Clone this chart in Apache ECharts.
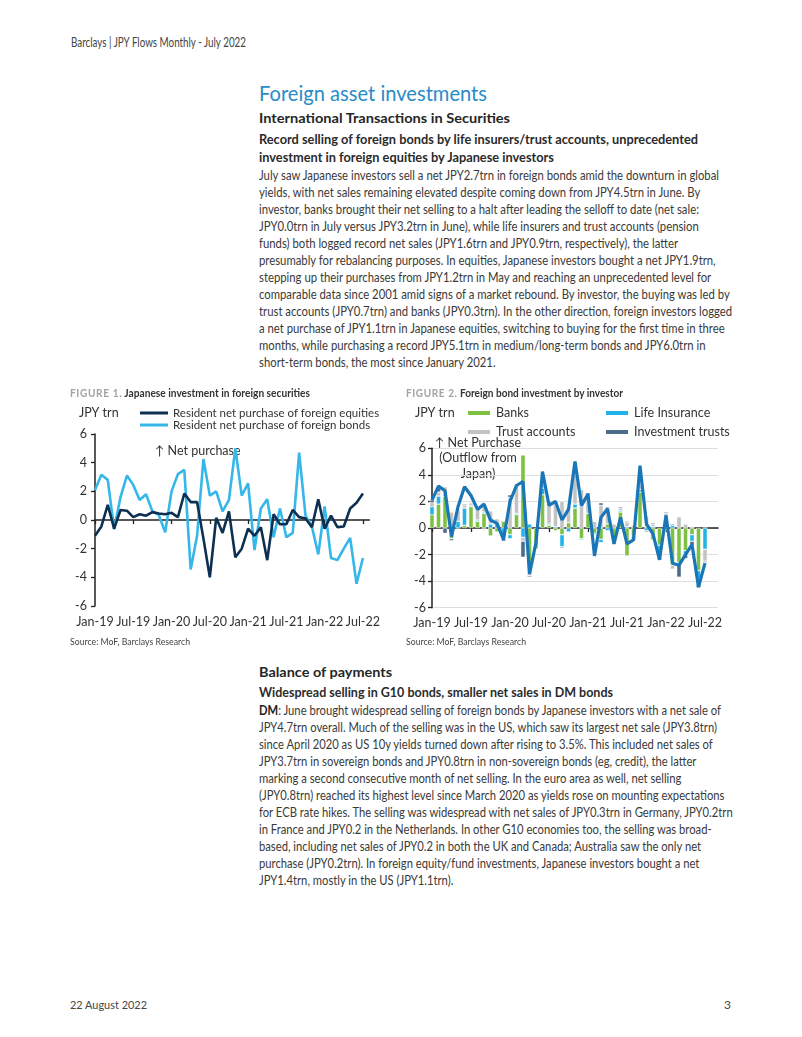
<!DOCTYPE html>
<html><head><meta charset="utf-8">
<script src="https://cdn.jsdelivr.net/npm/echarts@6.0.0/dist/echarts.min.js"></script>
<style>
html,body{margin:0;padding:0;background:#fff;}
body{width:802px;height:1037px;position:relative;overflow:hidden;font-family:Lato,"Open Sans",sans-serif;color:#3a3a3a;}
.t{position:absolute;white-space:nowrap;transform-origin:0 50%;}
.chart{position:absolute;}
.fig{font-size:11px;font-weight:700;color:#333;}
.fig span{color:#a3a3a3;letter-spacing:0.6px;}
</style></head>
<body>
<div id="c1" class="chart" style="left:60px;top:400px;width:340px;height:240px;"></div>
<div id="c2" class="chart" style="left:398px;top:400px;width:340px;height:240px;"></div>
<script>
// ---------- DATA ----------
const months = ['Jan-19','Feb-19','Mar-19','Apr-19','May-19','Jun-19','Jul-19','Aug-19','Sep-19','Oct-19','Nov-19','Dec-19',
  'Jan-20','Feb-20','Mar-20','Apr-20','May-20','Jun-20','Jul-20','Aug-20','Sep-20','Oct-20','Nov-20','Dec-20',
  'Jan-21','Feb-21','Mar-21','Apr-21','May-21','Jun-21','Jul-21','Aug-21','Sep-21','Oct-21','Nov-21','Dec-21',
  'Jan-22','Feb-22','Mar-22','Apr-22','May-22','Jun-22','Jul-22'];
// Figure 1 (JPY trn)
const equities = [-1.1,-0.45,1.05,-0.6,0.7,0.65,0.2,0.4,0.3,0.55,0.45,0.4,
  0.5,0.2,1.85,1.25,1.25,-1.3,-4.0,0.15,-0.9,0.6,-2.6,-2.0,
  -0.6,-1.1,-0.5,-2.8,0.4,-0.3,-0.3,0.7,0.2,0.1,-0.5,1.45,
  -0.6,0.3,-0.5,-0.45,0.8,1.2,1.85];
const bonds = [2.1,3.15,2.8,-0.65,1.6,3.1,2.45,1.4,1.8,0.6,0.35,-0.85,
  2.0,3.2,3.5,-3.45,-1.1,4.25,1.7,2.0,0.6,1.4,5.0,1.7,
  2.55,-2.1,0.8,1.45,-1.2,0.8,-1.2,-0.9,4.7,0.3,-0.45,-2.4,
  0.95,-2.65,-2.8,-2.0,-1.25,-4.45,-2.65];
// Figure 2 (JPY trn), by investor
const banks = [1.0,1.8,2.4,-0.8,0.0,0.2,1.6,0.5,1.1,-0.6,-0.3,0.5,
  -0.5,1.0,5.5,-3.0,-1.6,2.5,0.2,-0.2,-0.5,0.4,1.5,-0.8,
  1.1,-0.4,-0.85,0.3,-0.8,1.2,-2.1,-0.6,2.7,0.1,-0.9,-1.3,
  -0.2,-2.8,-2.6,-1.7,-0.5,-3.2,0.0];
const lifeIns = [0.6,0.6,0.2,0.0,0.5,1.3,0.1,0.1,0.1,0.3,0.4,-0.8,
  -0.3,0.1,-0.7,0.3,0.0,0.5,0.1,0.1,-0.9,-0.3,0.3,-0.1,
  0.0,-0.1,-0.25,-0.2,-0.3,0.1,0.1,-0.2,0.2,-0.2,0.1,-0.6,
  0.1,0.2,-0.1,-0.3,-0.5,-0.6,-1.6];
const trustAcc = [0.3,0.3,0.5,1.2,0.8,0.2,0.2,0.8,0.5,1.0,0.3,0.0,
  2.3,2.1,-0.3,-0.6,0.0,0.3,1.8,2.0,2.0,1.2,2.8,2.9,
  1.4,0.5,1.7,1.2,0.3,0.2,0.3,0.2,0.3,0.8,0.2,-0.3,
  1.0,-0.3,0.85,0.3,0.1,-0.4,-0.9];
const invTrusts = [0.2,0.3,-0.4,-0.15,0.1,0.1,0.0,0.0,-0.1,0.0,0.0,-0.2,
  0.2,0.1,-1.2,-0.1,0.0,0.2,0.0,0.0,-0.1,0.0,0.3,0.0,
  0.15,0.0,0.2,0.1,-0.1,0.1,0.1,-0.1,0.1,-0.1,0.1,-0.2,
  0.1,0.1,-1.0,-0.3,-0.3,-0.3,-0.1];

// ---------- TEXT ----------
const headerText = 'Barclays | JPY Flows Monthly - July 2022';
const titleText = 'Foreign asset investments';
const h2a = 'International Transactions in Securities';
const h3a = ['Record selling of foreign bonds by life insurers/trust accounts, unprecedented',
  'investment in foreign equities by Japanese investors'];
const bodyA = [
  'July saw Japanese investors sell a net JPY2.7trn in foreign bonds amid the downturn in global',
  'yields, with net sales remaining elevated despite coming down from JPY4.5trn in June. By',
  'investor, banks brought their net selling to a halt after leading the selloff to date (net sale:',
  'JPY0.0trn in July versus JPY3.2trn in June), while life insurers and trust accounts (pension',
  'funds) both logged record net sales (JPY1.6trn and JPY0.9trn, respectively), the latter',
  'presumably for rebalancing purposes. In equities, Japanese investors bought a net JPY1.9trn,',
  'stepping up their purchases from JPY1.2trn in May and reaching an unprecedented level for',
  'comparable data since 2001 amid signs of a market rebound. By investor, the buying was led by',
  'trust accounts (JPY0.7trn) and banks (JPY0.3trn). In the other direction, foreign investors logged',
  'a net purchase of JPY1.1trn in Japanese equities, switching to buying for the first time in three',
  'months, while purchasing a record JPY5.1trn in medium/long-term bonds and JPY6.0trn in',
  'short-term bonds, the most since January 2021.'];
const h2b = 'Balance of payments';
const h3b = 'Widespread selling in G10 bonds, smaller net sales in DM bonds';
const bodyB = [
  '<b style="color:#222">DM</b>: June brought widespread selling of foreign bonds by Japanese investors with a net sale of',
  'JPY4.7trn overall. Much of the selling was in the US, which saw its largest net sale (JPY3.8trn)',
  'since April 2020 as US 10y yields turned down after rising to 3.5%. This included net sales of',
  'JPY3.7trn in sovereign bonds and JPY0.8trn in non-sovereign bonds (eg, credit), the latter',
  'marking a second consecutive month of net selling. In the euro area as well, net selling',
  '(JPY0.8trn) reached its highest level since March 2020 as yields rose on mounting expectations',
  'for ECB rate hikes. The selling was widespread with net sales of JPY0.3trn in Germany, JPY0.2trn',
  'in France and JPY0.2 in the Netherlands. In other G10 economies too, the selling was broad-',
  'based, including net sales of JPY0.2 in both the UK and Canada; Australia saw the only net',
  'purchase (JPY0.2trn). In foreign equity/fund investments, Japanese investors bought a net',
  'JPY1.4trn, mostly in the US (JPY1.1trn).'];
const fig1Title = ['FIGURE 1.', 'Japanese investment in foreign securities'];
const fig2Title = ['FIGURE 2.', 'Foreign bond investment by investor'];
const sourceText = 'Source: MoF, Barclays Research';
const footerDate = '22 August 2022';
const pageNo = '3';

// ---------- PAGE TEXT LAYOUT ----------
function addText(html, x, y, size, opts) {
  opts = opts || {};
  const d = document.createElement('div');
  d.className = 't' + (opts.cls ? ' ' + opts.cls : '');
  d.innerHTML = html;
  const lh = Math.round(size * 1.4);
  d.style.left = x + 'px';
  d.style.top = (y - lh / 2) + 'px';
  d.style.fontSize = size + 'px';
  d.style.lineHeight = lh + 'px';
  if (opts.color) d.style.color = opts.color;
  if (opts.weight) d.style.fontWeight = opts.weight;
  document.body.appendChild(d);
  return d;
}
const groups = [];
function group(els, w) { groups.push({els, w}); }

group([addText(headerText, 71, 43, 12.5, {color:'#444'})], 175);
group([addText(titleText, 259, 93, 20.5, {color:'#2a8cc6'})], 228);
group([addText(h2a, 259, 118, 14, {color:'#262626', weight:700})], 251);
group(h3a.map((s, i) => addText(s, 259, 139 + 18 * i, 13, {color:'#2b2b2b', weight:700})), 439);
group(bodyA.map((s, i) => addText(s, 259, 176 + 17 * i, 12.5)), 460);
group([addText('<span>' + fig1Title[0] + '</span> ' + fig1Title[1], 70, 393, 10.5, {cls:'fig'})], 240);
group([addText('<span>' + fig2Title[0] + '</span> ' + fig2Title[1], 406, 393, 10.5, {cls:'fig'})], 217);
group([addText(sourceText, 70, 641, 9.5, {color:'#444'})], 120);
group([addText(sourceText, 406, 641, 9.5, {color:'#444'})], 120);
group([addText(h2b, 259, 672, 14, {color:'#262626', weight:700})], 133);
group([addText(h3b, 259, 692, 13, {color:'#2b2b2b', weight:700})], 354);
group(bodyB.map((s, i) => addText(s, 259, 711 + 17 * i, 12.5)), 462);
group([addText(footerDate, 70, 1004, 12, {color:'#444'})], 77);
addText(pageNo, 724, 1004, 12, {color:'#444'});

function fitAll() {
  groups.forEach(g => {
    g.els.forEach(e => e.style.transform = 'none');
    const w = g.els[0].getBoundingClientRect().width;
    const k = g.w / w;
    g.els.forEach(e => e.style.transform = 'scaleX(' + k + ')');
  });
}
fitAll();
if (document.fonts && document.fonts.ready) document.fonts.ready.then(fitAll);

// ---------- CHARTS ----------
const FONT = 'Lato';
const axisCol = '#222';
const labCol = '#333';

function xAxes(maxIdx) {
  return [
    {type:'category', data:months, boundaryGap:false, max:maxIdx,
     axisLine:{show:true, onZero:true, lineStyle:{color:axisCol, width:1.5}},
     axisTick:{show:true, interval:5, length:4, lineStyle:{color:axisCol, width:1.3}},
     axisLabel:{show:false}, splitLine:{show:false}},
    {type:'category', data:months, boundaryGap:false, max:maxIdx, position:'bottom',
     axisLine:{show:false, onZero:false}, axisTick:{show:false},
     axisLabel:{interval:5, color:labCol, fontSize:12.5, fontFamily:FONT, margin:9}, splitLine:{show:false}}
  ];
}

// Figure 1
const c1 = echarts.init(document.getElementById('c1'), null, {renderer:'canvas'});
c1.setOption({
  animation:false,
  textStyle:{fontFamily:FONT},
  grid:{left:35, top:34, width:274.3, height:172, containLabel:false},
  xAxis:xAxes(43),
  yAxis:{type:'value', min:-6, max:6, interval:2,
    axisLine:{show:true, lineStyle:{color:axisCol, width:1.5}},
    axisTick:{show:true, length:4, lineStyle:{color:axisCol, width:1.3}},
    axisLabel:{color:labCol, fontSize:12.5, fontFamily:FONT, margin:8},
    splitLine:{show:false}},
  legend:{orient:'vertical', left:80, top:7, padding:0, itemWidth:28, itemHeight:3, itemGap:0, icon:'rect',
    textStyle:{fontSize:11.5, color:labCol, fontFamily:FONT, lineHeight:12},
    data:['Resident net purchase of foreign equities','Resident net purchase of foreign bonds']},
  graphic:[
    {type:'text', x:19, y:13, style:{text:'JPY trn', fontSize:12.5, fontFamily:FONT, fill:labCol, verticalAlign:'middle'}},
    {type:'text', x:95, y:51, style:{text:'↑ Net purchase', fontSize:12.5, fontFamily:FONT, fill:labCol, verticalAlign:'middle'}}
  ],
  series:[
    {name:'Resident net purchase of foreign equities', type:'line', data:equities, symbol:'none',
     lineStyle:{color:'#0c2f52', width:2.6}, itemStyle:{color:'#0c2f52'}, z:3},
    {name:'Resident net purchase of foreign bonds', type:'line', data:bonds, symbol:'none',
     lineStyle:{color:'#35b7ea', width:2.6}, itemStyle:{color:'#35b7ea'}, z:2}
  ]
});

// Figure 2
const c2 = echarts.init(document.getElementById('c2'), null, {renderer:'canvas'});
const barStyle = (col) => ({color:col, borderColor:'#fff', borderWidth:0.5});
const legCommon = {orient:'vertical', top:6, padding:0, itemWidth:24, itemHeight:6, itemGap:5, icon:'rect',
  textStyle:{fontSize:12.5, color:labCol, fontFamily:FONT, lineHeight:14}};
c2.setOption({
  animation:false,
  textStyle:{fontFamily:FONT},
  grid:{left:34, top:48.3, width:286, height:159.4, containLabel:false},
  xAxis:xAxes(44),
  yAxis:{type:'value', min:-6, max:6, interval:2,
    axisLine:{show:true, lineStyle:{color:axisCol, width:1.5}},
    axisTick:{show:true, length:4, lineStyle:{color:axisCol, width:1.3}},
    axisLabel:{color:labCol, fontSize:12.5, fontFamily:FONT, margin:6},
    splitLine:{show:true, lineStyle:{color:'#dedede', width:1}}},
  legend:[
    Object.assign({left:68, data:['Banks','Trust accounts']}, legCommon),
    Object.assign({left:206, data:['Life Insurance','Investment trusts']}, legCommon)
  ],
  graphic:[
    {type:'text', x:17, y:13, style:{text:'JPY trn', fontSize:12.5, fontFamily:FONT, fill:labCol, verticalAlign:'middle'}},
    {type:'text', x:80, y:35, style:{text:'↑ Net Purchase\n(Outflow from\nJapan)', fontSize:12.5, lineHeight:15.5,
      fontFamily:FONT, fill:labCol, align:'center', verticalAlign:'top'}}
  ],
  series:[
    {name:'Banks', type:'bar', stack:'inv', data:banks, barWidth:4.6, clip:false, itemStyle:barStyle('#7cc143')},
    {name:'Life Insurance', type:'bar', stack:'inv', data:lifeIns, barWidth:4.6, clip:false, itemStyle:barStyle('#22b4e9')},
    {name:'Trust accounts', type:'bar', stack:'inv', data:trustAcc, barWidth:4.6, clip:false, itemStyle:barStyle('#c3c3c3')},
    {name:'Investment trusts', type:'bar', stack:'inv', data:invTrusts, barWidth:4.6, clip:false, itemStyle:barStyle('#4c6b88')},
    {name:'Total', type:'line', data:bonds, symbol:'none', lineStyle:{color:'#1977b9', width:3.2}, itemStyle:{color:'#1977b9'}, z:5}
  ]
});
</script>
</body></html>
